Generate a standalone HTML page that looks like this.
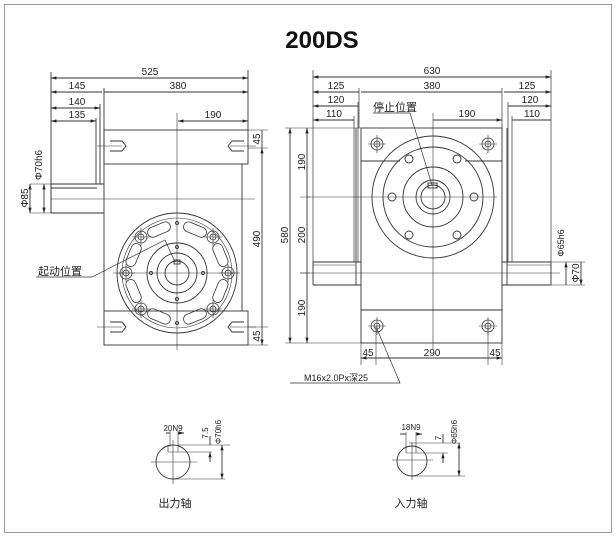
<!DOCTYPE html>
<html><head><meta charset="utf-8"><style>
html,body{margin:0;padding:0;background:#fff}
svg{display:block}
text{font-family:"Liberation Sans","Noto Sans CJK SC",sans-serif;fill:#222}
</style></head><body>
<svg width="616" height="537" viewBox="0 0 616 537" xmlns="http://www.w3.org/2000/svg">
<defs>
<marker id="a" viewBox="0 0 10 10" refX="10" refY="5" markerWidth="6" markerHeight="6" orient="auto-start-reverse"><path d="M0,2 L10,5 L0,8z" fill="#222"/></marker>
<g id="slot"><rect x="-12" y="-5" width="24" height="10" rx="5" fill="none" stroke="#333" stroke-width="0.8"/></g>
<g id="bolt"><circle r="6" fill="none" stroke="#333" stroke-width="0.8"/><circle r="3" fill="none" stroke="#333" stroke-width="0.8"/><path d="M-9,0H9M0,-9V9" stroke="#333" stroke-width="0.6"/></g>
</defs>
<rect x="4.5" y="4.5" width="607" height="528" fill="none" stroke="#999" stroke-width="1"/>
<text x="322" y="48" font-size="24" font-weight="bold" text-anchor="middle" style="fill:#111">200DS</text>

<g stroke="#333" stroke-width="0.9" fill="none">
<!-- LEFT VIEW -->
<rect x="104" y="130" width="144" height="34"/>
<rect x="104" y="311" width="144" height="34"/>
<path d="M104,164V311M242,164V311M104,130V345"/>
<path d="M51,184H104M51,213H104M51,188H97M51,184V213"/>
<path d="M51,72V213M104,88V130M100,104V184M96,118V184M248,70V130"/>
<path d="M51,199H255" stroke-width="0.6"/>
<path d="M177,113V350" stroke-width="0.6"/>
<path d="M97,146H122M230,146H256M97,327H122M230,327H256" stroke-width="0.6"/>
<path d="M110,141L122,141L126,146L122,151L110,151M244,141L232,141L228,146L232,151L244,151"/>
<path d="M110,322L122,322L126,327L122,332L110,332M244,322L232,322L228,327L232,332L244,332"/>
<circle cx="177" cy="273" r="60"/>
<circle cx="177" cy="273" r="55" stroke-width="0.6"/>
<circle cx="177" cy="273" r="30"/>
<circle cx="177" cy="273" r="20"/>
<circle cx="177" cy="273" r="12"/>
<rect x="174" y="260" width="6" height="4"/>
<path d="M113,273H240" stroke-width="0.6"/>
<g transform="translate(177,273)">
<use href="#slot" transform="rotate(22.5) translate(0,-47)"/>
<use href="#slot" transform="rotate(67.5) translate(0,-47)"/>
<use href="#slot" transform="rotate(112.5) translate(0,-47)"/>
<use href="#slot" transform="rotate(157.5) translate(0,-47)"/>
<use href="#slot" transform="rotate(202.5) translate(0,-47)"/>
<use href="#slot" transform="rotate(247.5) translate(0,-47)"/>
<use href="#slot" transform="rotate(292.5) translate(0,-47)"/>
<use href="#slot" transform="rotate(337.5) translate(0,-47)"/>
<use href="#bolt" transform="translate(51,0)"/>
<use href="#bolt" transform="translate(-51,0)"/>
<use href="#bolt" transform="translate(36,-36)"/>
<use href="#bolt" transform="translate(-36,-36)"/>
<use href="#bolt" transform="translate(36,36)"/>
<use href="#bolt" transform="translate(-36,36)"/>
<circle cx="0" cy="-50" r="1.5"/><circle cx="0" cy="50" r="1.5"/>
<circle cx="0" cy="-26" r="1.5"/><circle cx="0" cy="26" r="1.5"/>
<circle cx="-26" cy="0" r="1.5"/><circle cx="26" cy="0" r="1.5"/>
</g>
<path d="M36,277H92L165,240L175,262" stroke-width="0.7"/>
<path d="M248,130H268M248,148H268M248,327H268M248,345H268" stroke-width="0.6"/>
<path d="M262,148V327M262,130V148M262,327V345" marker-start="url(#a)" marker-end="url(#a)"/>
<path d="M51,78H248" marker-start="url(#a)" marker-end="url(#a)"/>
<path d="M51,92H102M104,92H248" marker-start="url(#a)" marker-end="url(#a)"/>
<path d="M51,108H100" marker-start="url(#a)" marker-end="url(#a)"/>
<path d="M51,121H96" marker-start="url(#a)" marker-end="url(#a)"/>
<path d="M178,121H248" marker-start="url(#a)" marker-end="url(#a)"/>
<path d="M30,184H55M30,213H55M45,184H55" stroke-width="0.6"/>
<path d="M30,184V213" marker-start="url(#a)" marker-end="url(#a)"/>
<path d="M44,184V213" marker-start="url(#a)" marker-end="url(#a)"/>

<!-- RIGHT VIEW -->
<rect x="361" y="128" width="141" height="215"/>
<path d="M361,161H400M465,161H502"/>
<path d="M361,310H502"/>
<path d="M356,128V285M507,128V285M313,262H361M313,285H361M313,262V285M502,262H551M502,285H551M551,262V285"/>
<path d="M313,265H355M507,265H551" stroke-width="0.6"/>
<path d="M313,70V262M551,70V262M359,88V128M502,88V128M358,102V262M508,102V262M354,116V262M512,116V262" stroke-width="0.7"/>
<path d="M433,113V350" stroke-width="0.6"/>
<path d="M307,197H497M300,273H560" stroke-width="0.6"/>
<circle cx="433" cy="197" r="61"/>
<circle cx="433" cy="197" r="50"/>
<circle cx="433" cy="197" r="30"/>
<circle cx="433" cy="197" r="17"/>
<circle cx="433" cy="197" r="12"/>
<rect x="428" y="183" width="9" height="5"/>
<g transform="translate(433,197)">
<circle cx="-41" cy="0" r="4"/><circle cx="41" cy="0" r="4"/>
<circle cx="-24" cy="-38" r="4"/><circle cx="24" cy="-38" r="4"/>
<circle cx="-24" cy="38" r="4"/><circle cx="24" cy="38" r="4"/>
</g>
<use href="#bolt" transform="translate(377,144)"/>
<use href="#bolt" transform="translate(488,144)"/>
<use href="#bolt" transform="translate(377,326)"/>
<use href="#bolt" transform="translate(488,326)"/>
<path d="M285,128H361M300,197H310M285,343H361M300,273H310" stroke-width="0.6"/>
<path d="M290,128V343" marker-start="url(#a)" marker-end="url(#a)"/>
<path d="M307,128V197M307,197V273M307,273V343" marker-start="url(#a)" marker-end="url(#a)"/>
<path d="M313,77H551" marker-start="url(#a)" marker-end="url(#a)"/>
<path d="M313,92H359M361,92H502M504,92H551" marker-start="url(#a)" marker-end="url(#a)"/>
<path d="M313,106H358M508,106H551" marker-start="url(#a)" marker-end="url(#a)"/>
<path d="M313,120H354M512,120H551M433,120H502" marker-start="url(#a)" marker-end="url(#a)"/>
<path d="M361,343V365M376,326V365M488,326V365M502,343V365" stroke-width="0.6"/>
<path d="M361,358H376M376,358H488M488,358H502" marker-start="url(#a)" marker-end="url(#a)"/>
<path d="M290,383H400L377,329" stroke-width="0.7"/>
<path d="M373,113H410L432,185" stroke-width="0.7"/>
<path d="M551,262H585M551,285H585" stroke-width="0.6"/>
<path d="M566,262V285M581,262V285" marker-start="url(#a)" marker-end="url(#a)"/>

<!-- SHAFT DETAILS -->
<circle cx="173" cy="462" r="17"/>
<path d="M151,462H197M173,440V484" stroke-width="0.6"/>
<path d="M168,445V452H178V445M178,445H230M178,452H212M173,479H225M170,431V447M178,431V447" stroke-width="0.6"/>
<path d="M166,433H170M178,433H184" marker-end="url(#a)"/>
<path d="M210,436V445M210,462V452" marker-end="url(#a)"/>
<path d="M222,445V479" marker-start="url(#a)" marker-end="url(#a)"/>
<circle cx="412" cy="461" r="15"/>
<path d="M392,460H433M412,442V480" stroke-width="0.6"/>
<path d="M406,448V453H416V448M409,443H460M416,453H448M412,476H465M406,432V448M416,432V448" stroke-width="0.6"/>
<path d="M400,434H406M416,434H422" marker-end="url(#a)"/>
<path d="M443,434V443M443,463V453" marker-end="url(#a)"/>
<path d="M459,443V476" marker-start="url(#a)" marker-end="url(#a)"/>
</g>

<g font-size="10" text-anchor="middle">
<text x="150" y="75">525</text>
<text x="77" y="89">145</text><text x="178" y="89">380</text>
<text x="77" y="105">140</text><text x="77" y="118">135</text>
<text x="213" y="118">190</text>
<text x="432" y="74">630</text>
<text x="336" y="89">125</text><text x="432" y="89">380</text><text x="527" y="89">125</text>
<text x="336" y="103">120</text><text x="530" y="103">120</text>
<text x="334" y="117">110</text><text x="532" y="117">110</text>
<text x="467" y="117">190</text>
<text x="368" y="356">45</text><text x="432" y="356">290</text><text x="495" y="356">45</text>
<text transform="translate(260,239) rotate(-90)">490</text>
<text transform="translate(260,139) rotate(-90)">45</text>
<text transform="translate(260,336) rotate(-90)">45</text>
<text transform="translate(42,165) rotate(-90)">Φ70h6</text>
<text transform="translate(28,198) rotate(-90)">Φ85</text>
<text transform="translate(288,235) rotate(-90)">580</text>
<text transform="translate(305,162) rotate(-90)">190</text>
<text transform="translate(305,235) rotate(-90)">200</text>
<text transform="translate(305,308) rotate(-90)">190</text>
<text transform="translate(564,243) rotate(-90)" font-size="9">Φ65h6</text>
<text transform="translate(579,273) rotate(-90)">Φ70</text>
</g>
<text x="38" y="275" font-size="11">起动位置</text>
<text x="373" y="111" font-size="11">停止位置</text>
<text x="304" y="381" font-size="9">M16x2.0Px深25</text>
<g font-size="8" text-anchor="middle">
<text x="173" y="431">20N9</text>
<text x="411" y="430">18N9</text>
<text transform="translate(208,433) rotate(-90)">7.5</text>
<text transform="translate(221,432) rotate(-90)">Φ70h6</text>
<text transform="translate(441,438) rotate(-90)">7</text>
<text transform="translate(457,432) rotate(-90)">Φ65h6</text>
</g>
<text x="175" y="507" font-size="11" text-anchor="middle">出力轴</text>
<text x="411" y="507" font-size="11" text-anchor="middle">入力轴</text>
</svg>
</body></html>
